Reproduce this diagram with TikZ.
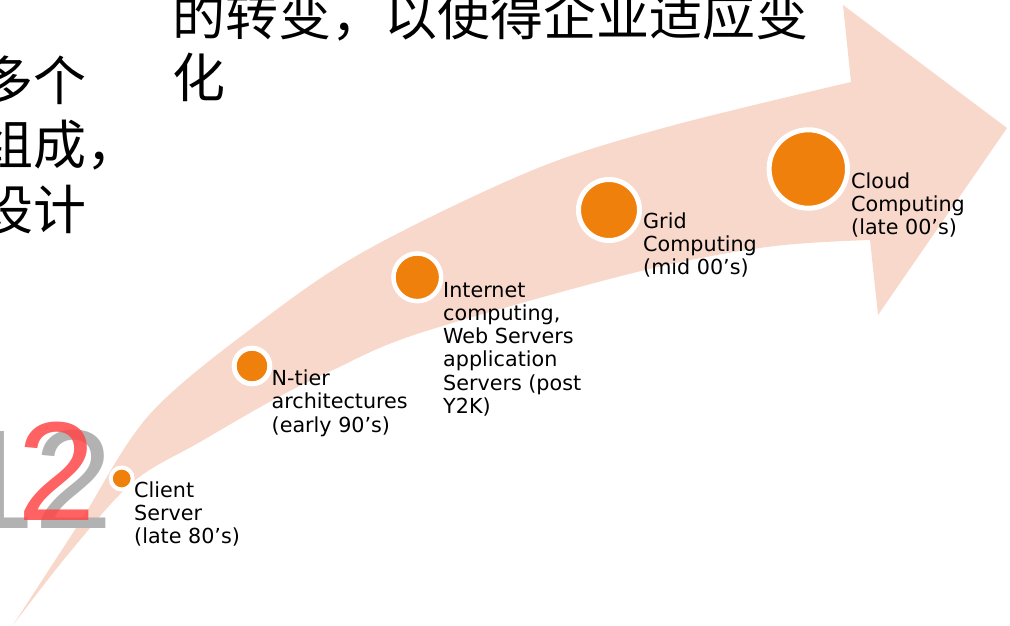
\documentclass[tikz,border=0pt]{standalone}
\usepackage{fontspec}
\setmainfont{DejaVu Sans}
\newfontfamily\cjk{Noto Sans CJK SC}
\newfontfamily\digitfont{Liberation Sans}
\definecolor{arrowpink}{RGB}{248,216,203}
\definecolor{dotorange}{RGB}{240,128,12}
\definecolor{numgray}{RGB}{178,178,178}
\definecolor{numred}{RGB}{255,70,70}
\begin{document}
\begin{tikzpicture}[x=1pt,y=-1pt,
  dot/.style={circle, fill=dotorange, draw=white, inner sep=0pt},
  lbl/.style={anchor=base west, align=left, inner sep=0pt, font=\fontsize{20.7}{23.3}\selectfont},
  cjkline/.style={anchor=base west, inner sep=0pt, font=\cjk\fontsize{53}{53}\selectfont},
  bignum/.style={anchor=base west, inner sep=0pt, font=\digitfont\fontsize{141}{141}\selectfont}]
\useasboundingbox (0,0) rectangle (1010,626);
% curved arrow
\fill[arrowpink] plot[smooth,tension=0.55] coordinates {(13,625) (80,522) (150,414) (260,322) (366.7,250) (533,170) (667,127) (851,82)}
  -- (843,5) -- (1007,128) -- (878,315) -- (870,240)
  -- plot[smooth,tension=0.55] coordinates {(870,240) (767,247) (633,273) (420,333) (333,370) (273,400) (200,442) (133,482) (70,552) (13,625)}
  -- cycle;
% big number
\node[bignum, text=numgray] (numg) at (-44,528) {12};
\node[bignum, text=numred, opacity=0.85] (numr) at (17.3,520) {2};
% Chinese text
\node[cjkline] (t1) at (172,36) {的转变，以使得企业适应变};
\node[cjkline] (t2) at (172,97) {化};
\node[cjkline] (l1) at (-19.5,101) {多个};
\node[cjkline] (l2) at (-19.5,164) {组成，};
\node[cjkline] (l3) at (-19.5,229) {设计};
% milestones
\node[dot, line width=4pt, minimum size=22pt] (d1) at (121.7,478.5) {};
\node[dot, line width=5pt, minimum size=35.6pt] (d2) at (252,366) {};
\node[dot, line width=4.5pt, minimum size=47.7pt] (d3) at (417.3,277.3) {};
\node[dot, line width=5pt, minimum size=61pt] (d4) at (609,210) {};
\node[dot, line width=5pt, minimum size=78.4pt] (d5) at (808.3,169) {};
% labels (anchored at the baseline of their last line)
\node[lbl] (c1) at (134,543.6) {Client\\Server\\(late 80’s)};
\node[lbl] (c2) at (271.5,432.1) {N-tier\\architectures\\(early 90’s)};
\node[lbl] (c3) at (443,413.5) {Internet\\computing,\\Web Servers\\application\\Servers (post\\Y2K)};
\node[lbl] (c4) at (643,274.6) {Grid\\Computing\\(mid 00’s)};
\node[lbl] (c5) at (851,234.6) {Cloud\\Computing\\(late 00’s)};
\end{tikzpicture}
\end{document}
